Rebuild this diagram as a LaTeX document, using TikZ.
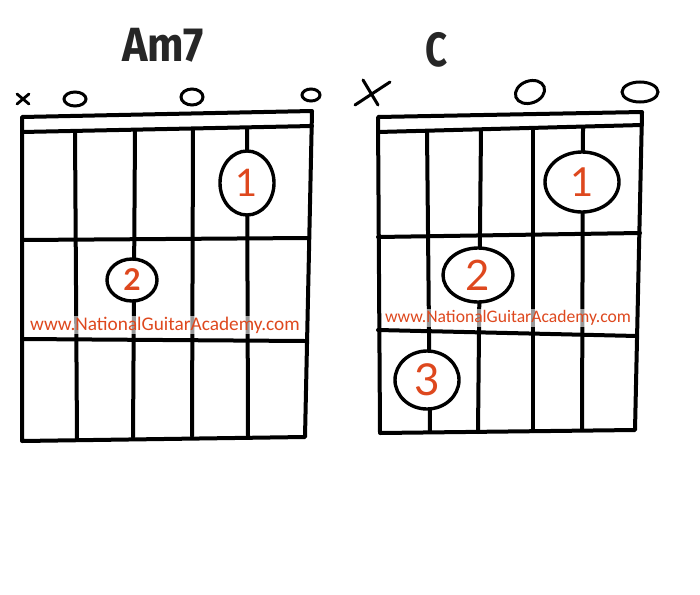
\documentclass[tikz,border=0pt]{standalone}
\usepackage{fontspec}
\usetikzlibrary{shapes.geometric}
\newfontfamily\titlefont{Fira Sans}
\newfontfamily\numfont{Lato}
\newfontfamily\wwwfont{Carlito}
\definecolor{ngared}{RGB}{222,72,30}
\begin{document}
\begin{tikzpicture}[x=1pt, y=-1pt,
    grid/.style={line width=4pt, line cap=round, line join=round},
    finger/.style={ellipse, draw, line width=3.4pt, fill=white, inner sep=0pt, text=ngared},
    chordname/.style={font=\titlefont\bfseries\fontsize{48}{48}\selectfont, text=black!85},
    watermark/.style={text=ngared, fill=white, fill opacity=0.6, text opacity=1, inner sep=1pt}
]
\useasboundingbox (0,0) rectangle (700,594);

% Am7 chart
\node[chordname, xscale=0.9] (am7) at (163,45) {Am7};
\draw[grid] (22,117) -- (312,111) -- (305,437) -- (22,441) -- cycle;
\draw[grid] (22,132) -- (312,126);
\draw[grid] (22,240) -- (308,238);
\draw[grid] (22,339) -- (305,341);
\draw[grid] (75,132) -- (77,439);
\draw[grid] (135,131) -- (133,437);
\draw[grid] (193,129) -- (192,436);
\draw[grid] (247,128) -- (248,437);

\node[watermark, font=\wwwfont\fontsize{19.3}{19.3}\selectfont] (wa) at (165,325) {www.NationalGuitarAcademy.com};

\node[finger, minimum width=54pt, minimum height=64pt, font=\numfont\fontsize{38}{38}\selectfont] (a1) at (247,183) {1};
\node[finger, minimum width=50pt, minimum height=42pt, font=\numfont\bfseries\fontsize{30}{30}\selectfont] (a2) at (132,280) {2};

% open and muted strings
\draw[line width=2.8pt, line cap=round] (17,94) -- (29,104) (17,104) -- (29,94);
\draw[line width=3pt] (75,99) ellipse (11 and 7);
\draw[line width=3pt] (192,97) ellipse (11 and 8);
\draw[line width=3pt] (311,95) ellipse (9 and 6);

% C chart
\node[chordname, xscale=0.8] (c) at (437,50) {C};
\draw[grid] (378,117) -- (642,112) -- (635,430) -- (380,433) -- cycle;
\draw[grid] (378,132) -- (642,125);
\draw[grid] (378,237) -- (640,233);
\draw[grid] (378,330) -- (637,336);
\draw[grid] (427,131) -- (430,432);
\draw[grid] (481,130) -- (478,432);
\draw[grid] (533,129) -- (533,431);
\draw[grid] (583,128) -- (582,430);

\node[watermark, font=\wwwfont\fontsize{17.6}{17.6}\selectfont] (wc) at (508,318) {www.NationalGuitarAcademy.com};

\node[finger, minimum width=74pt, minimum height=60pt, font=\numfont\fontsize{40}{40}\selectfont] (c1) at (582,182) {1};
\node[finger, minimum width=70pt, minimum height=54pt, font=\numfont\fontsize{42}{42}\selectfont] (c2) at (478,275) {2};
\node[finger, minimum width=64pt, minimum height=58pt, font=\numfont\fontsize{44}{44}\selectfont] (c3) at (427,380) {3};

% open and muted strings
\draw[line width=3pt, line cap=round] (355,105) -- (390,82) (363,80) -- (378,105);
\draw[line width=3pt, rotate around={20:(530,92)}] (530,92) ellipse (15 and 11);
\draw[line width=3pt] (640,92) ellipse (18 and 10);
\end{tikzpicture}
\end{document}
